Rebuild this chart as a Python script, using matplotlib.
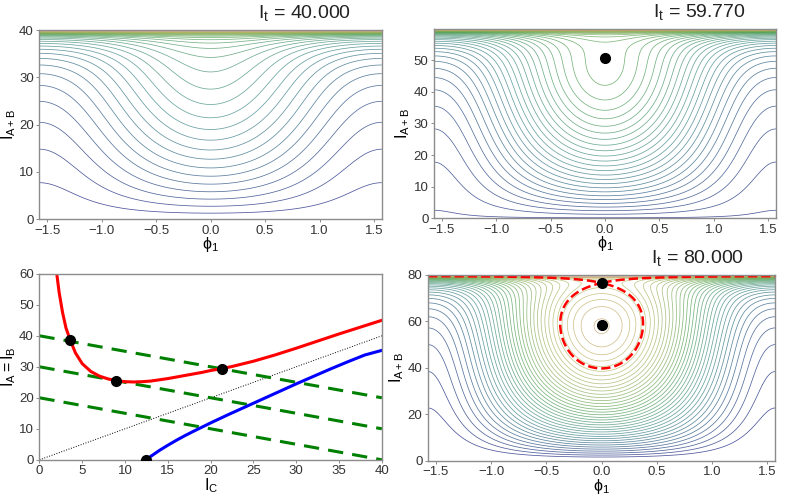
import numpy as np
import matplotlib
matplotlib.use('Agg')
import matplotlib.pyplot as plt

plt.rcParams['font.family'] = ['Liberation Sans', 'DejaVu Sans']
plt.rcParams['mathtext.fontset'] = 'custom'
plt.rcParams['mathtext.rm'] = 'Liberation Sans'
plt.rcParams['mathtext.it'] = 'Liberation Sans'

# total intensities of the three contour panels
I_t_values = [40.0, 59.77, 80.0]
yticks_contour = [[0, 10, 20, 30, 40], [0, 10, 20, 30, 40, 50], [0, 20, 40, 60, 80]]

# reduced hamiltonian, one set of constants per panel
a_lin = [4.3, 4.38, 5.4]
b_quad = [-0.06, -0.063, -0.081]
level_start = [9.5, 1.3, 15.8]
level_step = [10.5, 9.0, 8.0]
color_range = [(-20, 473), (-40, 515), (-11, 400)]
c1, L1 = 25.1, 3.23
c2, L2 = 53.0, 1.0
c3, L3 = 657.0, 0.35
kappa = 1.0

# fixed points (panel, phi_1, I_A+B) marked in the contour panels
fp_panel = [1, 2, 2]
fp_phi = [0.0, 0.0, 0.0]
fp_y = [50.6, 76.5, 58.6]
saddle_guess = 76.5

# bottom-left panel: fixed point branches
red_IC = [2.0, 2.3, 2.7, 3.1, 3.6, 4.2, 5.0, 6.0, 7.0, 8.0, 9.0, 10.0, 11.0, 12.0,
          13.0, 14.0, 15.0, 16.0, 17.0, 18.0, 19.0, 20.0, 21.3, 22.5, 25.0, 27.5,
          30.0, 32.5, 35.0, 37.5, 40.0]
red_IA = [60.5, 54.0, 47.5, 42.5, 38.6, 34.5, 31.0, 28.5, 27.0, 26.1, 25.5, 25.2,
          25.1, 25.2, 25.4, 25.8, 26.2, 26.7, 27.2, 27.7, 28.2, 28.8, 29.4, 30.1,
          31.8, 33.8, 36.0, 38.3, 40.6, 42.8, 45.0]
blue_IC = [12.5, 13.0, 14.0, 15.0, 16.0, 17.0, 18.0, 20.0, 22.0, 24.0, 26.0, 28.0,
           30.0, 32.0, 34.0, 36.0, 38.0, 40.0]
blue_IA = [0.0, 1.1, 3.0, 4.7, 6.3, 7.8, 9.2, 11.9, 14.5, 17.0, 19.5, 22.0, 24.5,
           26.9, 29.3, 31.6, 33.8, 35.3]
green_IA_start = [20, 30, 40]
green_IA_end = [0, 10, 20]
dots_IC = [3.6, 9.0, 21.3, 12.5]
dots_IA = [38.6, 25.5, 29.4, 0.0]


def hamiltonian(phi, y, It, i):
    z = np.clip(It - y, 0, None)
    x = y / 2.0
    F = (a_lin[i] * y + 0.5 * b_quad[i] * y**2 + c1 * L1 * np.exp(-z / L1)
         + c2 * L2 * np.exp(-z / L2) + c3 * L3 * np.exp(-z / L3))
    return F + kappa * x * np.sqrt(z) * np.cos(2 * phi)


fig = plt.figure(figsize=(7.89, 4.96), dpi=100)
rects = [[0.050, 0.558, 0.434, 0.381], [0.550, 0.560, 0.4335, 0.381],
         [0.050, 0.073, 0.434, 0.375], [0.5425, 0.071, 0.440, 0.375]]
axes = [fig.add_axes(r) for r in rects]
contour_axes = [axes[0], axes[1], axes[3]]

spine_col = '#8c8c8c'
for ax in axes:
    for s in ax.spines.values():
        s.set_color(spine_col)
        s.set_linewidth(1.0)
    ax.tick_params(direction='out', length=2.5, width=0.7, color=spine_col,
                   labelsize=9.5, labelcolor='#333333', pad=1.5)

phi = np.linspace(-np.pi / 2, np.pi / 2, 361)
u = np.linspace(0, 1, 900)
for i, (ax, It) in enumerate(zip(contour_axes, I_t_values)):
    y = It * (1 - (1 - u)**2)
    P, Y = np.meshgrid(phi, y)
    H = hamiltonian(P, Y, It, i)
    levels = np.arange(level_start[i], H.max(), level_step[i])
    ax.contour(P, Y, H, levels=levels, cmap='gist_earth', vmin=color_range[i][0],
               vmax=color_range[i][1], linewidths=0.55, alpha=0.72)
    if It == 80.0:
        yy = np.linspace(saddle_guess - 8, saddle_guess + 2.5, 3000)
        Hs = hamiltonian(0.0, yy, It, i).min()
        ax.contour(P, Y, H, levels=[Hs], colors='red', linewidths=1.8,
                   linestyles='--')
    for k in range(len(fp_y)):
        if fp_panel[k] == i:
            ax.plot(fp_phi[k], fp_y[k], 'o', color='black', ms=7, zorder=5)
    ax.set_xlim(-np.pi / 2, np.pi / 2)
    ax.set_ylim(0, It)
    ax.set_xticks([-1.5, -1.0, -0.5, 0.0, 0.5, 1.0, 1.5])
    ax.set_yticks(yticks_contour[i])
    ax.set_xlabel(r'$\mathrm{\phi_1}$', fontsize=11.5, labelpad=-1)
    ax.set_ylabel(r'$\mathrm{I_{A+B}}$', fontsize=11.5, labelpad=1)
    ax.text(0.775, 1.09, r'$\mathrm{I_t}$ = %.3f' % It, transform=ax.transAxes,
            ha='center', va='center', fontsize=14, color='#222222')

ax = axes[2]
ax.plot([0, 40], [0, 40], ':', color='black', lw=0.7)
for s, e in zip(green_IA_start, green_IA_end):
    ax.plot([0, 40], [s, e], '--', color='green', lw=2.2, dashes=(5, 3))
ax.plot(red_IC, red_IA, color='red', lw=2.2)
ax.plot(blue_IC, blue_IA, color='blue', lw=2.2)
ax.plot(dots_IC, dots_IA, 'o', color='black', ms=7, zorder=5)
ax.set_xlim(0, 40)
ax.set_ylim(0, 60)
ax.set_xticks(range(0, 41, 5))
ax.set_yticks(range(0, 61, 10))
ax.set_xlabel(r'$\mathrm{I_C}$', fontsize=11.5, labelpad=-1)
ax.set_ylabel(r'$\mathrm{I_A = I_B}$', fontsize=11.5, labelpad=1)

fig.savefig('out.png', dpi=100)
